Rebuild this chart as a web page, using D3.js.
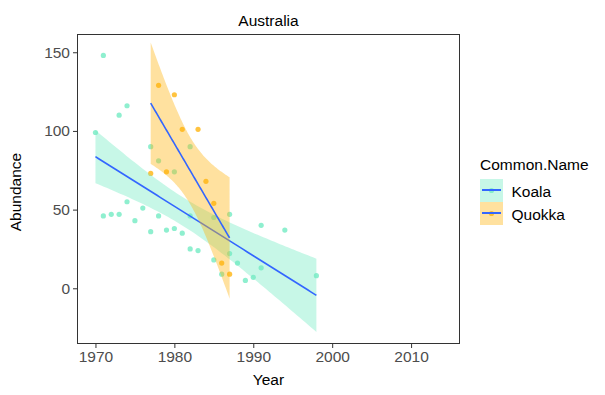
<!DOCTYPE html>
<html>
<head>
<meta charset="utf-8">
<script src="https://d3js.org/d3.v7.min.js"></script>
<style>
  body { margin: 0; background: #fff; }
  text { font-family: "Liberation Sans", Arial, sans-serif; }
</style>
</head>
<body>
<svg id="chart" width="605" height="395"></svg>
<script>
// data
const species = ["Koala", "Quokka"];
const koalaYear = [1970, 1971, 1971, 1972, 1973, 1973, 1974, 1974, 1975, 1976, 1977, 1977,
  1978, 1978, 1979, 1980, 1980, 1981, 1982, 1982, 1982, 1983, 1985, 1985, 1986, 1987, 1987,
  1988, 1989, 1990, 1991, 1991, 1994, 1998];
const koalaAbund = [99, 148, 46, 47, 110, 47, 116, 55, 43, 51, 90, 36,
  81, 46, 37, 74, 38, 35, 90, 46, 25, 24, 45, 18, 9, 47, 22,
  16, 5, 7, 13, 40, 37, 8];
const quokkaYear = [1977, 1978, 1979, 1980, 1981, 1983, 1984, 1985, 1986, 1987];
const quokkaAbund = [73, 129, 74, 123, 101, 101, 68, 54, 16, 9];
const xTicks = [1970, 1980, 1990, 2000, 2010];
const yTicks = [0, 50, 100, 150];
const colors = {Koala: "#73EBC3", Quokka: "#FFB40F"};

const series = [
  {name: "Koala", x: koalaYear, y: koalaAbund},
  {name: "Quokka", x: quokkaYear, y: quokkaAbund}
];

const svg = d3.select("#chart");
const panel = {left: 77, right: 460, top: 34, bottom: 344};

const x = d3.scaleLinear().domain([1967.66, 2016.2]).range([panel.left, panel.right]);
const y = d3.scaleLinear().domain([-35.4, 161.6]).range([panel.bottom, panel.top]);

// t quantile 0.975 (Cornish-Fisher approximation)
function tq(df) {
  const z = 1.959964;
  return z + (z**3 + z) / (4 * df) + (5 * z**5 + 16 * z**3 + 3 * z) / (96 * df * df)
    + (3 * z**7 + 19 * z**5 + 17 * z**3 - 15 * z) / (384 * df ** 3);
}

// linear model + 95% band like geom_smooth(method = "lm")
function lmFit(xs, ys) {
  const n = xs.length;
  const mx = d3.mean(xs), my = d3.mean(ys);
  let sxx = 0, sxy = 0;
  for (let i = 0; i < n; i++) {
    sxx += (xs[i] - mx) ** 2;
    sxy += (xs[i] - mx) * (ys[i] - my);
  }
  const b = sxy / sxx, a = my - b * mx;
  let sse = 0;
  for (let i = 0; i < n; i++) sse += (ys[i] - a - b * xs[i]) ** 2;
  const s = Math.sqrt(sse / (n - 2));
  const t = tq(n - 2);
  const lo = d3.min(xs), hi = d3.max(xs);
  return d3.range(80).map(i => {
    const xv = lo + (hi - lo) * i / 79;
    const fit = a + b * xv;
    const se = s * Math.sqrt(1 / n + (xv - mx) ** 2 / sxx);
    return {x: xv, fit: fit, lo: fit - t * se, hi: fit + t * se};
  });
}

// panel
svg.append("rect")
  .attr("x", panel.left).attr("y", panel.top)
  .attr("width", panel.right - panel.left).attr("height", panel.bottom - panel.top)
  .attr("fill", "#fff");

// points first
series.forEach(s => {
  svg.append("g").selectAll("circle")
    .data(s.x.map((v, i) => [v, s.y[i]]))
    .join("circle")
    .attr("cx", d => x(d[0]))
    .attr("cy", d => y(d[1]))
    .attr("r", 2.6)
    .attr("fill", colors[s.name])
    .attr("fill-opacity", 0.8);
});

// smooth per group: ribbon then line
const area = d3.area().x(d => x(d.x)).y0(d => y(d.lo)).y1(d => y(d.hi));
const line = d3.line().x(d => x(d.x)).y(d => y(d.fit));
series.forEach(s => {
  const fit = lmFit(s.x, s.y);
  svg.append("path").datum(fit)
    .attr("d", area)
    .attr("fill", colors[s.name])
    .attr("fill-opacity", 0.4);
  svg.append("path").datum(fit)
    .attr("d", line)
    .attr("fill", "none")
    .attr("stroke", "#3366FF")
    .attr("stroke-width", 1.6);
});

// border
svg.append("rect")
  .attr("x", panel.left + 0.5).attr("y", panel.top + 0.5)
  .attr("width", panel.right - panel.left - 1).attr("height", panel.bottom - panel.top - 1)
  .attr("fill", "none")
  .attr("stroke", "#333")
  .attr("stroke-width", 1);

// axes
const xAxis = svg.append("g")
  .attr("transform", `translate(0,${panel.bottom})`)
  .call(d3.axisBottom(x).tickValues(xTicks).tickFormat(d3.format("d")).tickSize(4).tickPadding(3));
const yAxis = svg.append("g")
  .attr("transform", `translate(${panel.left},0)`)
  .call(d3.axisLeft(y).tickValues(yTicks).tickSize(4).tickPadding(3));
[xAxis, yAxis].forEach(g => {
  g.select(".domain").remove();
  g.selectAll("line").attr("stroke", "#333");
  g.selectAll("text").attr("fill", "#4D4D4D").style("font-size", "15.5px");
});

// titles
svg.append("text")
  .attr("x", (panel.left + panel.right) / 2).attr("y", 26)
  .attr("text-anchor", "middle")
  .style("font-size", "15.5px")
  .text("Australia");
svg.append("text")
  .attr("x", (panel.left + panel.right) / 2).attr("y", 385)
  .attr("text-anchor", "middle")
  .style("font-size", "15.5px")
  .text("Year");
svg.append("text")
  .attr("transform", `translate(21,192) rotate(-90)`)
  .attr("text-anchor", "middle")
  .style("font-size", "15.5px")
  .text("Abundance");

// legend
const leg = svg.append("g").attr("transform", "translate(480,0)");
leg.append("text").attr("x", 0).attr("y", 170).style("font-size", "15.5px").text("Common.Name");
species.forEach((name, i) => {
  const ky = 179 + i * 23;
  leg.append("rect").attr("x", 0).attr("y", ky).attr("width", 23).attr("height", 23)
    .attr("fill", colors[name]).attr("fill-opacity", 0.4);
  leg.append("circle").attr("cx", 11.5).attr("cy", ky + 11.5).attr("r", 2.6)
    .attr("fill", colors[name]).attr("fill-opacity", 0.8);
  leg.append("rect").attr("x", 2).attr("y", ky + 10).attr("width", 19).attr("height", 2)
    .attr("fill", "#3366FF");
  leg.append("text").attr("x", 31.5).attr("y", ky + 17.5).style("font-size", "15.5px").text(name);
});
</script>
</body>
</html>
